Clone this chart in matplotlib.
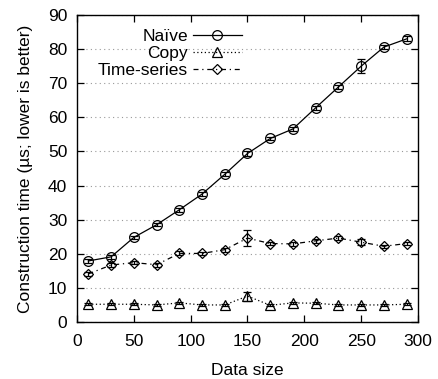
import matplotlib
matplotlib.use("Agg")
import matplotlib.pyplot as plt
from matplotlib.lines import Line2D
import numpy as np

plt.rcParams['font.family'] = ['Liberation Sans', 'DejaVu Sans']

sizes = [10, 30, 50, 70, 90, 110, 130, 150, 170, 190, 210, 230, 250, 270, 290]
naive = [17.9, 19.1, 24.8, 28.5, 32.9, 37.5, 43.3, 49.4, 53.8, 56.6, 62.8, 68.9, 75.0, 80.6, 83.0]
naive_err = [0.6, 0.6, 0.5, 0.5, 0.6, 0.5, 0.6, 0.6, 0.5, 0.5, 0.6, 0.5, 2.0, 0.6, 0.7]
copy = [5.2, 5.2, 5.2, 5.0, 5.6, 5.0, 5.0, 7.6, 4.9, 5.6, 5.5, 5.0, 5.0, 5.0, 5.2]
copy_err = [0.3, 0.3, 0.3, 0.3, 0.3, 0.3, 0.3, 1.3, 0.3, 0.3, 0.3, 0.3, 0.3, 0.3, 0.3]
ts = [14.1, 16.7, 17.4, 16.8, 20.1, 20.1, 21.2, 24.6, 23.0, 22.9, 23.8, 24.6, 23.4, 22.2, 23.0]
ts_err = [0.6, 0.7, 0.5, 0.6, 0.6, 0.5, 0.6, 2.4, 0.5, 0.6, 0.6, 0.7, 0.9, 0.5, 0.5]

fig = plt.figure(figsize=(4.39, 3.79), dpi=100)
ax = fig.add_axes([77/439, 57/379, 341/439, 307/379])

ms = 7
styles = [
    ('Naïve', naive, naive_err, '-', 'o', ms),
    ('Copy', copy, copy_err, (0, (1, 2)), '^', ms),
    ('Time-series', ts, ts_err, (0, (4, 3, 1, 3)), 'D', ms - 1.5),
]
handles = []
for label, vals, err, ls, mk, m in styles:
    ax.errorbar(sizes, vals, yerr=err, color='black', lw=0.9, ls=ls,
                marker=mk, ms=m, mfc='none', mec='black', mew=0.9,
                capsize=3, elinewidth=0.9)
    handles.append(Line2D([], [], color='black', lw=0.9, ls=ls, marker=mk, ms=m,
                          mfc='none', mec='black', mew=0.9, label=label))

ax.set_xlim(0, 300)
ax.set_ylim(0, 90)
ax.set_xticks(np.arange(0, 301, 50))
ax.set_yticks(np.arange(0, 91, 10))
ax.yaxis.grid(True, ls=(0, (1, 3)), color='#999999', lw=0.8)
ax.set_axisbelow(True)
ax.tick_params(direction='in', top=True, right=True, length=5, labelsize=12.5, width=0.9)
ax.tick_params(axis='x', pad=9)
ax.tick_params(axis='y', pad=7)
for s in ax.spines.values():
    s.set_linewidth(1.0)

ax.set_xlabel('Data size', fontsize=12.5, labelpad=10)
ax.set_ylabel('Construction time (µs; lower is better)', fontsize=12.5, labelpad=11)

leg = ax.legend(handles=handles, loc='upper left', bbox_to_anchor=(0.03, 0.99), markerfirst=False,
                frameon=False, fontsize=12.5, handlelength=2.8, labelspacing=0.12,
                handletextpad=0.3, borderaxespad=0.2)
try:
    for col in leg._legend_box.get_children()[1].get_children():
        col.align = 'right'
except Exception:
    pass

fig.savefig('out.png', dpi=100)
